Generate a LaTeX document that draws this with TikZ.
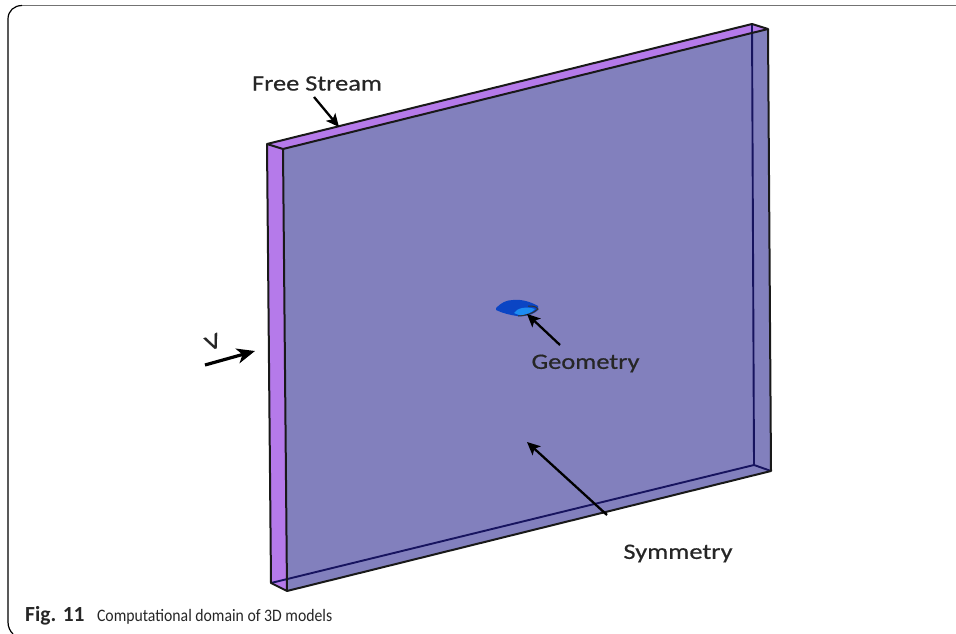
\documentclass[tikz,border=0pt]{standalone}
\usepackage{fontspec}
\setmainfont[FakeStretch=0.9]{Carlito}
\newfontfamily\labelfont[FakeStretch=1.2,FakeBold=0.6]{Carlito}
\newfontfamily\figfont{Carlito}
\usetikzlibrary{arrows.meta}
\definecolor{faceblue}{HTML}{8280BD}
\definecolor{sideviolet}{HTML}{B57AEA}
\definecolor{navy}{HTML}{17145F}
\definecolor{geomdark}{HTML}{0B45C4}
\definecolor{geomlight}{HTML}{1C8CF2}
\tikzset{
  outerline/.style={draw=black!90,line width=2pt,line join=round},
  innerline/.style={draw=navy,line width=1.9pt,line join=round},
  pointer/.style={draw=black,line width=2.3pt,-{Stealth[length=13pt,width=12pt,inset=3pt]}},
  lbl/.style={font=\labelfont\fontsize{22}{22}\selectfont,text=black!85,inner sep=0pt,anchor=center},
  capt/.style={font=\fontsize{17.5}{18}\selectfont,text=black!85,inner sep=0pt,anchor=base west}
}
\begin{document}
\begin{tikzpicture}[x=1pt,y=-1pt]
\useasboundingbox (0,0) rectangle (956,634);
% frame
\begin{scope}
\clip (0,0) rectangle (956,634);
\draw[draw=black!55,line width=1.4pt] (956,5.5) -- (22,5.5);
\draw[draw=black,line width=1.2pt] (22,5.5) .. controls (14,5.5) and (8,11) .. (8,19) -- (8,622) .. controls (8,627) and (10,631) .. (13,634);
\end{scope}
% box corners
\coordinate (A) at (267,144);
\coordinate (B) at (752,24);
\coordinate (C) at (768,29);
\coordinate (D) at (283,149);
\coordinate (E) at (287,591);
\coordinate (F) at (271,583);
\coordinate (G) at (771,471);
\coordinate (H) at (754,465);
% faces
\fill[faceblue] (D) -- (C) -- (G) -- (E) -- cycle;
\fill[sideviolet] (A) -- (B) -- (C) -- (D) -- cycle;
\fill[sideviolet] (A) -- (D) -- (E) -- (F) -- cycle;
% hidden edges
\draw[innerline] (F) -- (H) -- (B);
\draw[innerline] (H) -- (G);
% visible edges
\draw[outerline] (A) -- (B) -- (C) -- (D) -- cycle;
\draw[outerline] (A) -- (F) -- (E) -- (D);
\draw[outerline] (E) -- (G) -- (C);
% small geometry
\fill[geomdark] (496,308) .. controls (501,303) and (506,300) .. (513,300) .. controls (522,299) and (531,302) .. (538,306) -- (538,310) .. controls (533,315) and (524,317) .. (517,316) .. controls (510,315) and (502,313) .. (496,310) -- cycle;
\fill[geomlight] (514,313) .. controls (517,308) and (526,306) .. (535,309) .. controls (533,312) and (525,316) .. (519,315) -- cycle;
\draw[black!80,line width=1pt] (518,316) .. controls (525,316) and (534,313) .. (538,309) .. controls (536,306) and (532,306) .. (528,306);
% labels
\node[lbl] (fs) at (317,83.5) {Free Stream};
\node[lbl] (ge) at (585.5,363.5) {Geometry};
\node[lbl] (sy) at (678,553.5) {Symmetry};
\node[lbl,rotate=23] (vv) at (213,342) {V};
\coordinate (fsA) at (314,97);
\coordinate (fsB) at (339,127);
\coordinate (geA) at (560,345);
\coordinate (geB) at (527,314);
\coordinate (syA) at (607,515);
\coordinate (syB) at (527,442);
\coordinate (vA) at (205,365);
\coordinate (vB) at (255,351);
\draw[pointer] (fsA) -- (fsB);
\draw[pointer] (geA) -- (geB);
\draw[pointer] (syA) -- (syB);
\draw[draw=black,line width=3.2pt,-{Stealth[length=18pt,width=15pt,inset=5pt]}] (vA) -- (vB);
% caption
\node[capt] (cp) at (25,621.5) {{\figfont\bfseries\fontsize{21.5}{18}\selectfont Fig. 11}\hspace{12.5pt}Computational domain of 3D models};
\end{tikzpicture}
\end{document}
